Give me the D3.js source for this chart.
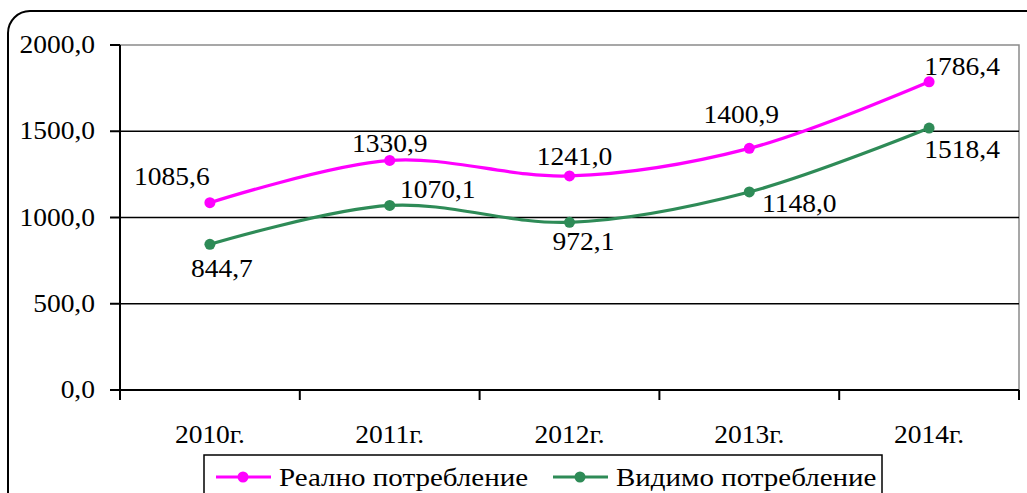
<!DOCTYPE html>
<html>
<head>
<meta charset="utf-8">
<script src="https://cdn.jsdelivr.net/npm/d3@7"></script>
<style>
  body { margin: 0; background: #fff; }
</style>
</head>
<body>
<div id="chart"></div>
<script>
const years = ["2010г.", "2011г.", "2012г.", "2013г.", "2014г."];
const realValues = [1085.6, 1330.9, 1241.0, 1400.9, 1786.4];
const visibleValues = [844.7, 1070.1, 972.1, 1148.0, 1518.4];
const seriesNames = ["Реално потребление", "Видимо потребление"];
const yTicks = [0, 500, 1000, 1500, 2000];

// label placement relative to each point [dx, dy, anchor]
const realLabelPos = [[-38, -18, "middle"], [0, -8, "middle"], [5, -11, "middle"], [-8, -25, "middle"], [33, -7, "middle"]];
const visLabelPos = [[12, 33, "middle"], [48, -7, "middle"], [14, 28, "middle"], [50, 20, "middle"], [33, 30, "middle"]];

(function () {
  const W = 1027, H = 493;
  const margin = { top: 45, right: 8, bottom: 103, left: 120 },
    width = 899,
    height = 345;
  const sx = 1.1; // text in the picture is a little wide
  const FONT = "Liberation Serif";

  const svg = d3.select("#chart").append("svg")
    .attr("width", W)
    .attr("height", H)
    .style("display", "block");

  // outer rounded frame
  svg.append("rect")
    .attr("x", 8).attr("y", 11)
    .attr("width", 1040).attr("height", 520)
    .attr("rx", 22).attr("ry", 22)
    .attr("fill", "#fff")
    .attr("stroke", "#000")
    .attr("stroke-width", 2);

  const fmt = (v) => d3.format(".1f")(v).replace(".", ",");

  function txt(parent, x, y, s, anchor, scale) {
    return parent.append("text")
      .attr("transform", `translate(${x},${y}) scale(${scale || sx},1)`)
      .attr("text-anchor", anchor || "middle")
      .attr("font-family", FONT)
      .attr("font-size", "25px")
      .attr("fill", "#000")
      .text(s);
  }

  const g = svg.append("g").attr("transform", `translate(${margin.left},${margin.top})`);

  const x = d3.scaleBand().domain(years).range([0, width]);
  const y = d3.scaleLinear().domain([0, 2000]).range([height, 0]);

  // plot border (gray)
  g.append("rect")
    .attr("x", 0).attr("y", 0)
    .attr("width", width).attr("height", height)
    .attr("fill", "none")
    .attr("stroke", "#8a8a8a")
    .attr("stroke-width", 1.5);

  // gridlines
  g.selectAll(".grid")
    .data(yTicks.filter((d) => d > 0 && d < 2000))
    .join("line")
    .attr("x1", 0).attr("x2", width)
    .attr("y1", (d) => y(d)).attr("y2", (d) => y(d))
    .attr("stroke", "#000")
    .attr("stroke-width", 1.5);

  // y axis
  g.append("line")
    .attr("x1", 0).attr("x2", 0)
    .attr("y1", 0).attr("y2", height)
    .attr("stroke", "#000").attr("stroke-width", 2);
  g.selectAll(".ytick")
    .data(yTicks)
    .join("line")
    .attr("x1", -10).attr("x2", 0)
    .attr("y1", (d) => y(d)).attr("y2", (d) => y(d))
    .attr("stroke", "#000").attr("stroke-width", 2);
  yTicks.forEach((d) => txt(g, -25, y(d) + 8, fmt(d), "end"));

  // x axis
  g.append("line")
    .attr("x1", 0).attr("x2", width)
    .attr("y1", height).attr("y2", height)
    .attr("stroke", "#000").attr("stroke-width", 2);
  const bounds = years.map((d) => x(d)).concat([x(years[years.length - 1]) + x.bandwidth()]);
  g.selectAll(".xtick")
    .data(bounds)
    .join("line")
    .attr("x1", (d) => d).attr("x2", (d) => d)
    .attr("y1", height).attr("y2", height + 10)
    .attr("stroke", "#000").attr("stroke-width", 2);
  years.forEach((d) => txt(g, x(d) + x.bandwidth() / 2, height + 53, d, "middle"));

  const cx = (d, i) => x(years[i]) + x.bandwidth() / 2;
  const line = d3.line()
    .x((d, i) => cx(d, i))
    .y((d) => y(d))
    .curve(d3.curveCatmullRom.alpha(0.5));

  const series = [
    { name: seriesNames[0], values: realValues, color: "#ff00ff", pos: realLabelPos },
    { name: seriesNames[1], values: visibleValues, color: "#2e8b57", pos: visLabelPos }
  ];

  series.forEach((s) => {
    g.append("path")
      .attr("d", line(s.values))
      .attr("fill", "none")
      .attr("stroke", s.color)
      .attr("stroke-width", 3.2);
    g.selectAll(null)
      .data(s.values)
      .join("circle")
      .attr("cx", cx)
      .attr("cy", (d) => y(d))
      .attr("r", 5.5)
      .attr("fill", s.color);
    s.values.forEach((v, i) => {
      const p = s.pos[i];
      txt(g, cx(v, i) + p[0], y(v) + p[1], fmt(v), p[2]);
    });
  });

  // legend
  const lg = svg.append("g");
  lg.append("rect")
    .attr("x", 204).attr("y", 455)
    .attr("width", 678).attr("height", 60)
    .attr("fill", "#fff")
    .attr("stroke", "#000")
    .attr("stroke-width", 1.5);
  const legendX = [216, 553];
  series.forEach((s, i) => {
    const lx = legendX[i];
    lg.append("line")
      .attr("x1", lx).attr("x2", lx + 55)
      .attr("y1", 477).attr("y2", 477)
      .attr("stroke", s.color).attr("stroke-width", 3.2);
    lg.append("circle")
      .attr("cx", lx + 27).attr("cy", 477)
      .attr("r", 5.5).attr("fill", s.color);
    txt(lg, lx + 63, 486, s.name, "start", 1.16);
  });
})();
</script>
</body>
</html>
